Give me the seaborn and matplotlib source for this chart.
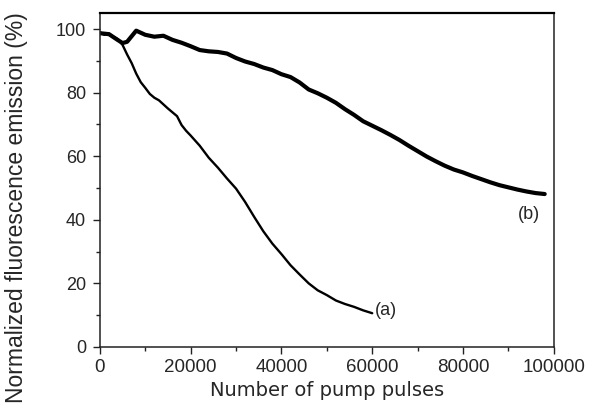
import matplotlib
matplotlib.use("Agg")
import matplotlib.pyplot as plt
import seaborn as sns
import pandas as pd
from matplotlib.ticker import MultipleLocator

# curve (a): fast photobleaching
a_pulses = [0, 1000, 2000, 3000, 4000, 5000, 6000, 7000, 8000, 9000, 10000,
            11000, 12000, 13000, 14000, 15000, 16000, 17000, 18000, 19000, 20000,
            22000, 24000, 26000, 28000, 30000, 32000, 34000, 36000, 38000, 40000,
            42000, 44000, 46000, 48000, 50000, 52000, 54000, 56000, 58000, 60000]
a_emission = [99.0, 98.2, 98.6, 97.6, 96.8, 95.0, 92.0, 89.3, 86.0, 83.3, 81.5,
              79.6, 78.4, 77.6, 76.3, 75.0, 73.8, 72.6, 69.8, 68.0, 66.5,
              63.3, 59.5, 56.4, 53.0, 49.8, 45.6, 40.9, 36.4, 32.5, 29.2,
              25.7, 22.8, 20.0, 17.8, 16.3, 14.6, 13.5, 12.6, 11.5, 10.6]

# curve (b): slow photobleaching
b_pulses = [0, 2000, 4000, 5000, 6000, 8000, 10000, 12000, 14000, 16000, 18000,
            20000, 22000, 24000, 26000, 28000, 30000, 32000, 34000, 36000, 38000,
            40000, 42000, 44000, 46000, 48000, 50000, 52000, 54000, 56000, 58000,
            60000, 62000, 64000, 66000, 68000, 70000, 72000, 74000, 76000, 78000,
            80000, 82000, 84000, 86000, 88000, 90000, 92000, 94000, 96000, 98000]
b_emission = [98.7, 98.4, 96.5, 95.6, 96.0, 99.5, 98.2, 97.6, 97.9, 96.6, 95.7,
              94.6, 93.4, 93.0, 92.8, 92.3, 90.9, 89.8, 89.0, 87.9, 87.1,
              85.8, 84.9, 83.2, 81.0, 79.8, 78.4, 76.8, 74.8, 73.0, 71.0,
              69.6, 68.2, 66.7, 65.1, 63.3, 61.6, 59.9, 58.4, 57.0, 55.8,
              54.9, 53.8, 52.8, 51.8, 50.9, 50.2, 49.5, 48.9, 48.4, 48.1]

df_a = pd.DataFrame({"pulses": a_pulses, "emission": a_emission})
df_b = pd.DataFrame({"pulses": b_pulses, "emission": b_emission})

sns.set_style("white")
plt.rcParams["font.family"] = ["Liberation Sans", "DejaVu Sans"]

fig = plt.figure(figsize=(5.91, 4.12), dpi=100)
ax = fig.add_axes([0.169, 0.158, 0.768, 0.810])

sns.lineplot(data=df_a, x="pulses", y="emission", color="black", lw=1.7, ax=ax)
sns.lineplot(data=df_b, x="pulses", y="emission", color="black", lw=3.0, ax=ax)

ax.set_xlim(0, 100000)
ax.set_ylim(0, 105)
ax.xaxis.set_major_locator(MultipleLocator(20000))
ax.xaxis.set_minor_locator(MultipleLocator(10000))
ax.yaxis.set_major_locator(MultipleLocator(20))
ax.yaxis.set_minor_locator(MultipleLocator(10))

ax.tick_params(which="major", direction="out", length=5, width=1, color="#222222")
ax.tick_params(which="minor", direction="out", length=3, width=1, color="#222222")
ax.tick_params(axis="x", which="major", labelsize=13.5, pad=4)
ax.tick_params(axis="y", which="major", labelsize=13, pad=5)
ax.tick_params(left=True, bottom=True, which="both")

for side in ["left", "right", "bottom"]:
    ax.spines[side].set_linewidth(1.1)
    ax.spines[side].set_color("#222222")
ax.spines["top"].set_linewidth(1.6)
ax.spines["top"].set_color("black")

ax.set_xlabel("Number of pump pulses", fontsize=14, family=["DejaVu Sans"], labelpad=3)
ax.set_ylabel("Normalized fluorescence emission (%)", fontsize=16.5)
ax.yaxis.set_label_coords(-0.158, 0.416)

ax.text(60600, 11.6, "(a)", fontsize=13, va="center", ha="left")
ax.text(92100, 41.8, "(b)", fontsize=13, va="center", ha="left")

fig.savefig("out.png", dpi=100)
